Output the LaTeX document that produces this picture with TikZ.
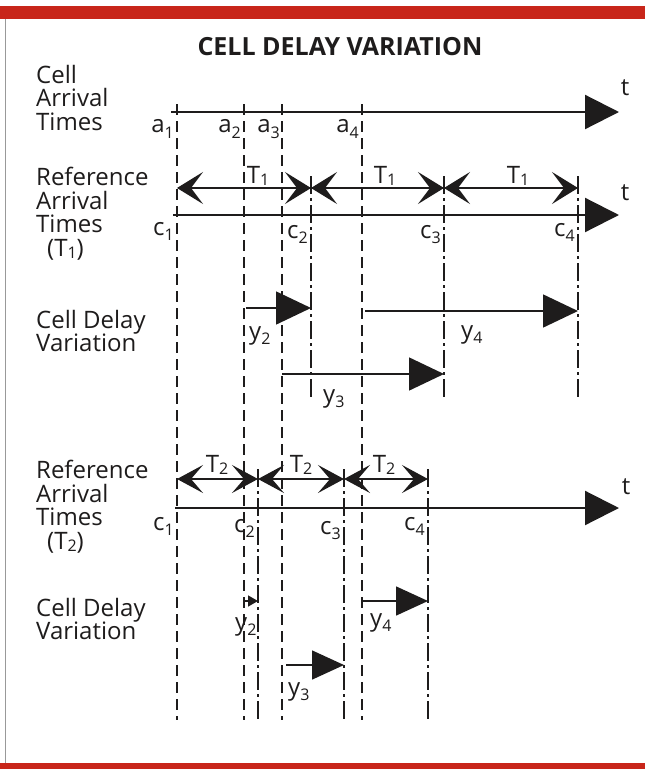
\documentclass[tikz,border=0pt]{standalone}
\usepackage{fontspec}
\setmainfont{Open Sans}
\usepackage{tikz}
\usetikzlibrary{arrows.meta}
\definecolor{bandred}{RGB}{200,38,26}
\definecolor{ink}{RGB}{30,28,28}
\newcommand{\subl}[3][5pt]{#2\raisebox{-#1}{\fontsize{16}{16}\selectfont #3}}

\begin{document}
\begin{tikzpicture}[x=1pt,y=-1pt,>=Stealth,
  every node/.style={inner sep=0pt,text=ink},
  rowtxt/.style={font=\fontsize{24}{23.5}\selectfont,align=left,anchor=north west},
  ticklbl/.style={font=\fontsize{24}{23}\selectfont,anchor=base east},
  gaplbl/.style={font=\fontsize{24}{23}\selectfont,anchor=base},
  dlbl/.style={font=\fontsize{24}{23}\selectfont,anchor=base west},
  tlbl/.style={font=\fontsize{24}{23}\selectfont},
  axis/.style={draw=ink,line width=2.2pt,-{Triangle[length=34pt,width=34pt]}},
  period/.style={draw=ink,line width=1.3pt,
    {Stealth[length=26pt,width=32pt,inset=12pt]}-{Stealth[length=26pt,width=32pt,inset=12pt]}},
  periodsm/.style={draw=ink,line width=1.3pt,
    {Stealth[length=26pt,width=28pt,inset=12pt]}-{Stealth[length=26pt,width=28pt,inset=12pt]}},
  delay/.style={draw=ink,line width=1.6pt,-{Triangle[length=35pt,width=33pt]}},
  delaysm/.style={draw=ink,line width=1.6pt,-{Triangle[length=32pt,width=29pt]}},
  delaytiny/.style={draw=ink,line width=1.6pt,-{Triangle[length=10pt,width=11pt]}},
  aline/.style={draw=ink,line width=1.1pt,dash pattern=on 11pt off 6pt},
  cline/.style={draw=ink,line width=1.1pt,dash pattern=on 18pt off 4pt on 3pt off 4pt}]
  \useasboundingbox (0,0) rectangle (645,769);
  \fill[bandred] (0,6) rectangle (645,19);
  \fill[bandred] (0,763) rectangle (645,769);
  \draw[black!40,line width=1pt] (5,19) -- (5,763);

  \node[font=\bfseries\fontsize{25}{26}\selectfont] (title) at (340,47) {CELL DELAY VARIATION};

  % cell arrival times
  \node[rowtxt] (arrtxt) at (36,65) {Cell\\Arrival\\Times};
  \coordinate (s0) at (171,112);
  \coordinate (e0) at (619,112);
  \draw[axis] (s0) -- (e0);
  \node[tlbl] (t0) at (625,88) {t};
  \foreach \n/\x in {1/177,2/244,3/282,4/362}{
    \coordinate (a\n) at (\x,104);
    \coordinate (ab\n) at (\x,720);
    \draw[aline] (a\n) -- (ab\n);
  }
  \node[ticklbl] (la1) at (174,132) {\subl[6pt]{a}{1}};
  \node[ticklbl] (la2) at (241,132) {\subl[6pt]{a}{2}};
  \node[ticklbl] (la3) at (280,132) {\subl[6pt]{a}{3}};
  \node[ticklbl] (la4) at (359,132) {\subl[6pt]{a}{4}};

  % reference arrival times T1
  \node[rowtxt] (reftxt1) at (36,167) {Reference\\Arrival\\Times\\\hspace*{11pt}(\subl[2pt]{T}{1})};
  \coordinate (s1) at (173,215);
  \coordinate (e1) at (619,215);
  \draw[axis] (s1) -- (e1);
  \node[tlbl] (t1) at (625,193) {t};
  \foreach \n/\x in {1/177,2/311,3/444,4/578}{
    \coordinate (p\n) at (\x,188);
  }
  \foreach \n/\x in {2/311,3/444,4/578}{
    \coordinate (c\n) at (\x,176);
    \coordinate (cb\n) at (\x,398);
    \draw[cline] (c\n) -- (cb\n);
  }
  \draw[period] (p1) -- (p2);
  \draw[period] (p2) -- (p3);
  \draw[period] (p3) -- (p4);
  \node[gaplbl] (gap1) at (258,183) {\subl[2pt]{T}{1}};
  \node[gaplbl] (gap2) at (385,183) {\subl[2pt]{T}{1}};
  \node[gaplbl] (gap3) at (518,183) {\subl[2pt]{T}{1}};
  \node[ticklbl] (lc1) at (174,235) {\subl{c}{1}};
  \node[ticklbl] (lc2) at (308,238) {\subl{c}{2}};
  \node[ticklbl] (lc3) at (441,238) {\subl{c}{3}};
  \node[ticklbl] (lc4) at (575,236) {\subl{c}{4}};

  % cell delay variation T1
  \node[rowtxt] (cdvtxt1) at (36,310) {Cell Delay\\Variation};
  \coordinate (d2a) at (246,308);
  \coordinate (d2b) at (311,308);
  \coordinate (d3a) at (282,374);
  \coordinate (d3b) at (444,374);
  \coordinate (d4a) at (365,311);
  \coordinate (d4b) at (578,311);
  \draw[delay] (d2a) -- (d2b);
  \draw[delay] (d3a) -- (d3b);
  \draw[delay] (d4a) -- (d4b);
  \node[dlbl] (y2) at (249,339) {\subl{y}{2}};
  \node[dlbl] (y3) at (323,402) {\subl{y}{3}};
  \node[dlbl] (y4) at (461,338) {\subl{y}{4}};

  % reference arrival times T2
  \node[rowtxt] (reftxt2) at (36,460) {Reference\\Arrival\\Times\\\hspace*{11pt}(\subl[2pt]{T}{2})};
  \coordinate (s2) at (175,508);
  \coordinate (e2) at (619,508);
  \draw[axis] (s2) -- (e2);
  \node[tlbl] (t2) at (626,487) {t};
  \foreach \n/\x in {1/177,2/258,3/344,4/428}{
    \coordinate (q\n) at (\x,479);
  }
  \foreach \n/\x in {2/258,3/344,4/428}{
    \coordinate (k\n) at (\x,469);
    \coordinate (kb\n) at (\x,720);
    \draw[cline] (k\n) -- (kb\n);
  }
  \draw[periodsm] (q1) -- (q2);
  \draw[periodsm] (q2) -- (q3);
  \draw[periodsm] (q3) -- (q4);
  \node[gaplbl] (gap4) at (217,472) {\subl[2pt]{T}{2}};
  \node[gaplbl] (gap5) at (301,472) {\subl[2pt]{T}{2}};
  \node[gaplbl] (gap6) at (384,472) {\subl[2pt]{T}{2}};
  \node[ticklbl] (lk1) at (174,530) {\subl{c}{1}};
  \node[ticklbl] (lk2) at (255,532) {\subl{c}{2}};
  \node[ticklbl] (lk3) at (341,534) {\subl{c}{3}};
  \node[ticklbl] (lk4) at (425,530) {\subl{c}{4}};

  % cell delay variation T2
  \node[rowtxt] (cdvtxt2) at (36,598) {Cell Delay\\Variation};
  \coordinate (f2a) at (244,601);
  \coordinate (f2b) at (258,601);
  \coordinate (f3a) at (286,665);
  \coordinate (f3b) at (344,665);
  \coordinate (f4a) at (362,601);
  \coordinate (f4b) at (428,601);
  \draw[delaytiny] (f2a) -- (f2b);
  \draw[delaysm] (f3a) -- (f3b);
  \draw[delaysm] (f4a) -- (f4b);
  \node[dlbl] (z2) at (235,630) {\subl{y}{2}};
  \node[dlbl] (z3) at (288,695) {\subl{y}{3}};
  \node[dlbl] (z4) at (370,626) {\subl{y}{4}};
\end{tikzpicture}
\end{document}
